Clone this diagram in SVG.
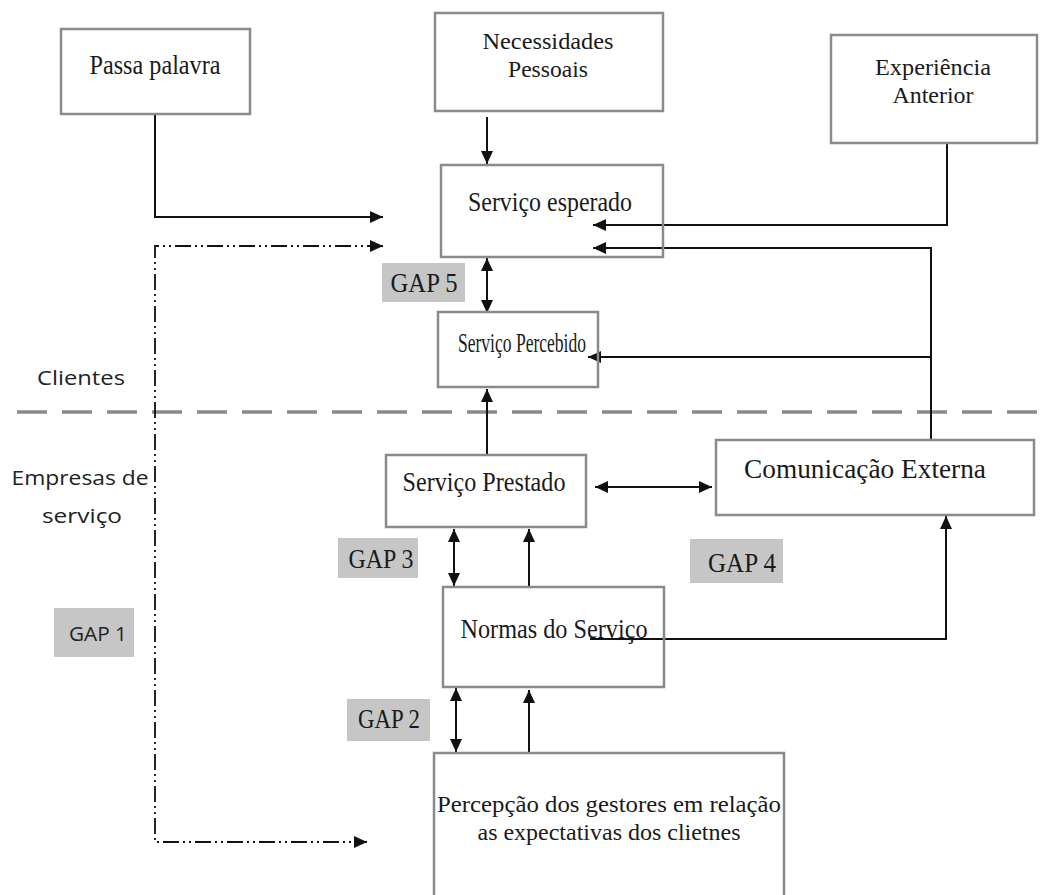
<svg xmlns="http://www.w3.org/2000/svg" width="1049" height="895" viewBox="0 0 1049 895">
<style>
.box{fill:#fff;stroke:#8a8a8a;stroke-width:2.5}
.gap{fill:#c6c6c6;stroke:none}
.t{font-family:"Liberation Serif","Times New Roman",serif;font-size:28px;fill:#1a1a1a;text-anchor:middle}
.t2{font-family:"Liberation Serif","Times New Roman",serif;font-size:24px;fill:#1a1a1a;text-anchor:middle}
.s{font-family:"Open Sans","Liberation Sans",sans-serif;font-size:20px;fill:#222;text-anchor:middle}
.c{fill:none;stroke:#111;stroke-width:2}
.dd{fill:none;stroke:#111;stroke-width:1.8;stroke-dasharray:16 4 2 4 2 4}
</style>
<defs>
<marker id="ah" markerUnits="userSpaceOnUse" markerWidth="13" markerHeight="12" refX="13" refY="6" orient="auto-start-reverse" viewBox="0 0 13 12">
<path d="M0,0 L13,6 L0,12 z" fill="#111"/>
</marker>
</defs>
<rect width="1049" height="895" fill="#fff"/>
<line x1="17" y1="412" x2="1049" y2="412" stroke="#8a8a8a" stroke-width="3.5" stroke-dasharray="30 15"/>
<g id="connectors">
<path class="c" d="M155,114 V217 H383" marker-end="url(#ah)"/>
<path class="dd" d="M383,246 H155 V842 H367" marker-start="url(#ah)" marker-end="url(#ah)"/>
<path class="c" d="M487,117 V164" marker-end="url(#ah)"/>
<path class="c" stroke="#444" d="M947,143 V225 H593" marker-end="url(#ah)"/>
<path class="c" d="M931,440 V248 H593" marker-end="url(#ah)"/>
<path class="c" d="M931,357 H588" marker-end="url(#ah)"/>
<path class="c" d="M487,258 V313" marker-start="url(#ah)" marker-end="url(#ah)"/>
<path class="c" d="M487,457 V389" marker-end="url(#ah)"/>
<path class="c" d="M595,487 H712" marker-start="url(#ah)" marker-end="url(#ah)"/>
<path class="c" d="M454,529 V586" marker-start="url(#ah)" marker-end="url(#ah)"/>
<path class="c" d="M529,586 V529" marker-end="url(#ah)"/>
<path class="c" d="M590,639 H946 V516" marker-end="url(#ah)"/>
<path class="c" d="M456,688 V752" marker-start="url(#ah)" marker-end="url(#ah)"/>
<path class="c" d="M529,752 V690" marker-end="url(#ah)"/>
</g>
<g id="passa">
<rect class="box" x="61" y="29" width="189" height="85"/>
<text class="t" x="155" y="74" textLength="131" lengthAdjust="spacingAndGlyphs">Passa palavra</text>
</g>
<g id="necessidades">
<rect class="box" x="435" y="13" width="228" height="98"/>
<text class="t2" x="548" y="49" textLength="131" lengthAdjust="spacingAndGlyphs">Necessidades</text>
<text class="t2" x="548" y="77" textLength="80" lengthAdjust="spacingAndGlyphs">Pessoais</text>
</g>
<g id="experiencia">
<rect class="box" x="831" y="35" width="206" height="108"/>
<text class="t2" x="933" y="75" textLength="116" lengthAdjust="spacingAndGlyphs">Experiência</text>
<text class="t2" x="933" y="103" textLength="81" lengthAdjust="spacingAndGlyphs">Anterior</text>
</g>
<g id="esperado">
<rect class="box" x="441" y="165" width="222" height="92" fill-opacity="0"/>
<text class="t" x="550" y="211" textLength="164" lengthAdjust="spacingAndGlyphs">Serviço esperado</text>
</g>
<g id="percebido">
<rect class="box" x="438" y="312" width="160" height="75" fill-opacity="0"/>
<text class="t" x="522" y="352" textLength="128" lengthAdjust="spacingAndGlyphs">Serviço Percebido</text>
</g>
<g id="prestado">
<rect class="box" x="386" y="455" width="200" height="72"/>
<text class="t" x="484" y="491" textLength="163" lengthAdjust="spacingAndGlyphs">Serviço Prestado</text>
</g>
<g id="comunicacao">
<rect class="box" x="716" y="440" width="318" height="75"/>
<text class="t" x="865" y="478" textLength="242" lengthAdjust="spacingAndGlyphs">Comunicação Externa</text>
</g>
<g id="normas">
<rect class="box" x="443" y="587" width="221" height="100" fill-opacity="0"/>
<text class="t" x="554" y="638" textLength="187" lengthAdjust="spacingAndGlyphs">Normas do Serviço</text>
</g>
<g id="percepcao">
<rect class="box" x="434" y="753" width="350" height="160"/>
<text class="t2" x="609" y="812" textLength="344" lengthAdjust="spacingAndGlyphs">Percepção dos gestores em relação</text>
<text class="t2" x="609" y="840" textLength="263" lengthAdjust="spacingAndGlyphs">as expectativas dos clietnes</text>
</g>
<g id="gap5">
<rect class="gap" x="382" y="263" width="83" height="39"/>
<text class="t" x="424" y="292" textLength="67" lengthAdjust="spacingAndGlyphs">GAP 5</text>
</g>
<g id="gap3">
<rect class="gap" x="338" y="538" width="80" height="40"/>
<text class="t" x="381" y="568" textLength="65" lengthAdjust="spacingAndGlyphs">GAP 3</text>
</g>
<g id="gap4">
<rect class="gap" x="690" y="539" width="93" height="44"/>
<text class="t" x="742" y="572" textLength="68" lengthAdjust="spacingAndGlyphs">GAP 4</text>
</g>
<g id="gap2">
<rect class="gap" x="347" y="699" width="83" height="42"/>
<text class="t" x="389" y="728" textLength="62" lengthAdjust="spacingAndGlyphs">GAP 2</text>
</g>
<g id="gap1">
<rect class="gap" x="54" y="608" width="80" height="49"/>
<text class="s" x="98" y="641" textLength="58" lengthAdjust="spacingAndGlyphs">GAP 1</text>
</g>
<g id="labels">
<text class="s" x="81" y="385" textLength="88" lengthAdjust="spacingAndGlyphs">Clientes</text>
<text class="s" x="80" y="485" textLength="137" lengthAdjust="spacingAndGlyphs">Empresas de</text>
<text class="s" x="82" y="523" textLength="80" lengthAdjust="spacingAndGlyphs">serviço</text>
</g>
</svg>
